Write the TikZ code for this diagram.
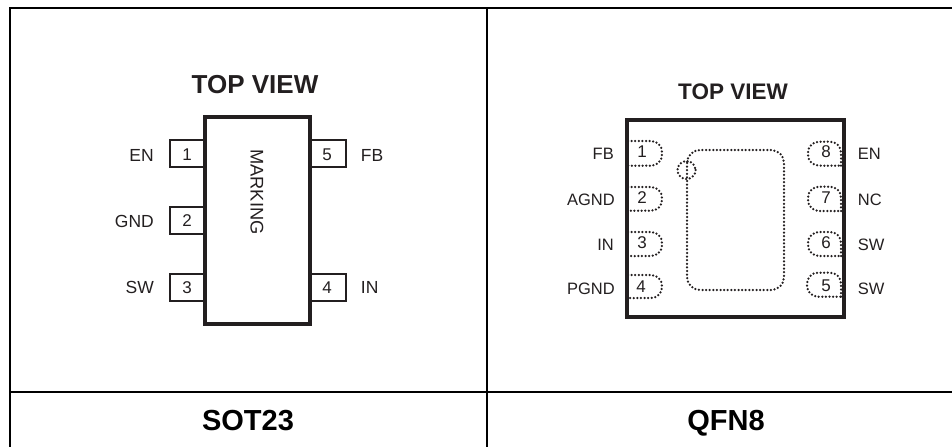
\documentclass[tikz,border=0pt]{standalone}
\usepackage{fontspec}
\setmainfont{Liberation Sans}
\definecolor{ink}{HTML}{231F20}
\tikzset{
  x=1pt,y=-1pt,
  rule/.style={line width=2pt,black},
  body/.style={line width=4pt,draw=ink,line cap=rect},
  pinbox/.style={line width=1.8pt,draw=ink},
  pad/.style={line width=2.5pt,draw=ink,line cap=round,dash pattern=on 0pt off 3.6pt},
  lab/.style={inner sep=0pt,text=ink,font=\fontsize{17.5}{18}\selectfont},
  marklab/.style={inner sep=0pt,text=ink,font=\fontsize{18.3}{19}\selectfont},
  qlab/.style={inner sep=0pt,text=ink,font=\fontsize{16.5}{17}\selectfont},
  num/.style={inner sep=0pt,text=ink,font=\fontsize{17}{17}\selectfont},
  headbig/.style={inner sep=0pt,text=ink,font=\fontsize{26}{26}\selectfont\bfseries},
  headsmall/.style={inner sep=0pt,text=ink,font=\fontsize{22.5}{23}\selectfont\bfseries},
  caption/.style={inner sep=0pt,anchor=base,text=black,font=\fontsize{29}{29}\selectfont\bfseries},
}
\begin{document}
\begin{tikzpicture}
\useasboundingbox (0,0) rectangle (952,447);
% table
\draw[rule] (952,8) -- (10,8) -- (10,447);
\draw[rule] (487,8) -- (487,447);
\draw[rule] (10,392) -- (952,392);
\node[caption] (capa) at (248,430.5) {SOT23};
\node[caption] (capb) at (726,430.5) {QFN8};
% SOT23
\node[headbig] (tva) at (255,85) {TOP VIEW};
\foreach \ya/\yb in {140/166.7,206.7/234,274/300.7}
  \draw[pinbox] (205,\ya) -- (170,\ya) -- (170,\yb) -- (205,\yb);
\foreach \ya/\yb in {140/166.7,274/300.7}
  \draw[pinbox] (310,\ya) -- (345.7,\ya) -- (345.7,\yb) -- (310,\yb);
\draw[body] (205,116.7) rectangle (310,324);
\node[marklab,rotate=-90] (mark) at (257,192) {MARKING};
\node[num] (sa) at (187,155) {1};
\node[num] (sb) at (187,221) {2};
\node[num] (sc) at (187,287.5) {3};
\node[num] (sd) at (327,287.5) {4};
\node[num] (se) at (327,155) {5};
\node[lab,anchor=east] (len) at (154,155) {EN};
\node[lab,anchor=east] (lgnd) at (154,221) {GND};
\node[lab,anchor=east] (lsw) at (154,287.5) {SW};
\node[lab,anchor=west] (lfb) at (360.7,155) {FB};
\node[lab,anchor=west] (lin) at (360.7,287.5) {IN};
% QFN8
\node[headsmall] (tvb) at (733,92) {TOP VIEW};
\foreach \ya/\yb in {141/165.7,187/210.7,232/256,275/298}
  \draw[pad,rounded corners=11pt] (628,\ya) -| (662,\yb) -- (628,\yb);
\foreach \ya/\yb/\xa in {141.7/165.7/808,186.7/211/808,232/256/808,272.7/296.7/807}
  \draw[pad,rounded corners=11pt] (841,\yb) -- (841,\ya) -| (\xa,\yb) -- (841,\yb);
\draw[pad,rounded corners=13pt] (687,150) rectangle (784,290);
\draw[pad] (686.5,170) circle[radius=9];
\draw[body] (626.7,120) rectangle (844,317);
\node[num] (qa) at (642,152) {1};
\node[num] (qb) at (642,198) {2};
\node[num] (qc) at (642,243) {3};
\node[num] (qd) at (641,287) {4};
\node[num] (qe) at (826,286) {5};
\node[num] (qf) at (826,243) {6};
\node[num] (qg) at (826,198) {7};
\node[num] (qh) at (826,152) {8};
\node[qlab,anchor=east] (qfb) at (614,154) {FB};
\node[qlab,anchor=east] (qagnd) at (615,200) {AGND};
\node[qlab,anchor=east] (qin) at (614,245) {IN};
\node[qlab,anchor=east] (qpgnd) at (615,289) {PGND};
\node[qlab,anchor=west] (qen) at (857.7,154) {EN};
\node[qlab,anchor=west] (qnc) at (857.7,200) {NC};
\node[qlab,anchor=west] (qsa) at (857.7,245) {SW};
\node[qlab,anchor=west] (qsb) at (857.7,289) {SW};
\end{tikzpicture}
\end{document}
